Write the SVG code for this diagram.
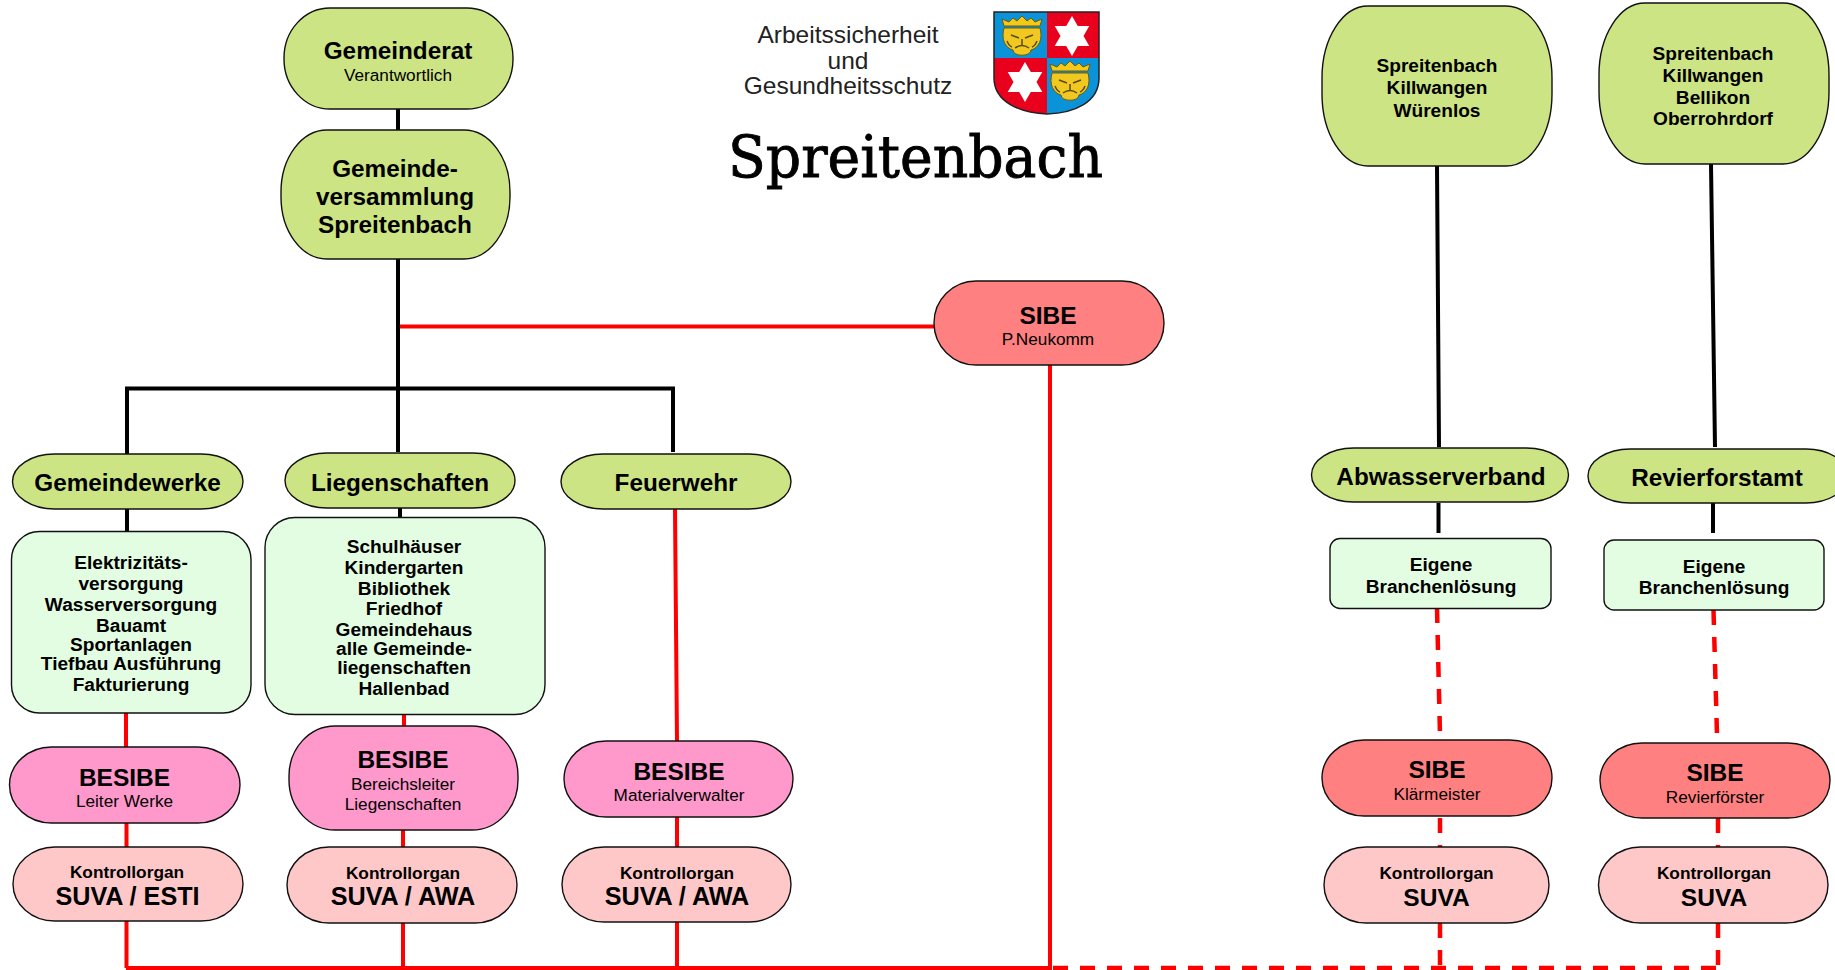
<svg xmlns="http://www.w3.org/2000/svg" xmlns:xlink="http://www.w3.org/1999/xlink" width="1835" height="970" viewBox="0 0 1835 970">
<style>
text{font-family:"Liberation Sans",Arial,sans-serif;text-anchor:middle;fill:#000}
.t25{font-size:24.500px;font-weight:bold}
.s25{font-size:25.200px;font-weight:bold}
.t23{font-size:24.300px;font-weight:bold}
.t19{font-size:19.100px;font-weight:bold}
.t17b{font-size:17.300px;font-weight:bold}
.t17{font-size:17.200px}
.logo{font-size:24.500px;fill:#222}
.n{stroke:#111;stroke-width:1.4}
.g{fill:#cce483}.p{fill:#e3fde3}.k{fill:#ff99cc}.l{fill:#ffc8c8}.r{fill:#ff8080}
.blk{stroke:#000;stroke-width:4;fill:none}
.red{stroke:#f00;stroke-width:4;fill:none}
.dash{stroke:#f00;stroke-width:4.500;fill:none;stroke-dasharray:15 12}
</style>
<defs>
<g id="lion">
<path d="M2 9 L0 2 L7 5 L11 1 L15 4 L20 -1 L25 4 L29 1 L33 5 L40 2 L38 9 Z" fill="#f5c916" stroke="#6b5a10" stroke-width="1"/>
<path d="M2 11 H38 C41 22 37 31 29 33 C29 40 11 40 11 33 C3 31 -1 22 2 11 Z" fill="#f0c820" stroke="#6b5a10" stroke-width="1"/>
<path d="M9 18 L17 21 M31 18 L23 21 M20 22 V28 M13 31 Q20 26 27 31 M5 24 Q7 29 10 30 M35 24 Q33 29 30 30" stroke="#5a4a10" stroke-width="1.500" fill="none"/>
</g>
<polygon id="star" points="0,-20 5.800,-10 17.300,-10 11.500,0 17.300,10 5.800,10 0,20 -5.800,10 -17.300,10 -11.500,0 -17.300,-10 -5.800,-10" fill="#fff"/>
</defs>

<g id="connectors">
<path class="blk" d="M398 109V130M398 259V452M127 454V388.500H673V452M127 509V537M400 508V521M1437 166L1439 447M1711 164L1715 447M1438.500 503V533M1713 503V533"/>
<path class="red" d="M400 326.500H934M1050 365V968M126 968H1052M126 713V747M126.500 823V847M126.500 921V968M404 714V726M403 830V847M403 923V968M675 509L677 741M677 817V847M677 922V968"/>
<path class="dash" d="M1437 608L1440 735M1713.500 610L1717 735M1440 818V847M1718 818V847M1440 923V968M1718 923V968M1053 968H1718"/>
</g>

<g id="gemeinderat"><rect class="n g" x="284" y="8" width="229" height="101" rx="46" ry="50"/><text class="t23" x="398" y="59">Gemeinderat</text><text class="t17" x="398" y="81">Verantwortlich</text></g>
<g id="gemeindeversammlung"><rect class="n g" x="281" y="130" width="229" height="129" rx="46" ry="62"/><text class="t23" x="395" y="177">Gemeinde-</text><text class="t23" x="395" y="205">versammlung</text><text class="t23" x="395" y="233">Spreitenbach</text></g>
<g id="sibe-neukomm"><rect class="n r" x="934" y="281" width="230" height="84" rx="42" ry="42"/><text class="t25" x="1048" y="324">SIBE</text><text class="t17" x="1048" y="345">P.Neukomm</text></g>

<g id="gemeindewerke"><rect class="n g" x="12.500" y="454" width="230.500" height="55" rx="42" ry="27.500"/><text class="t23" x="127.500" y="491">Gemeindewerke</text></g>
<g id="liegenschaften"><rect class="n g" x="285" y="453" width="230" height="55" rx="42" ry="27.500"/><text class="t23" x="400" y="491">Liegenschaften</text></g>
<g id="feuerwehr"><rect class="n g" x="561" y="454" width="230" height="55" rx="42" ry="27.500"/><text class="t23" x="676" y="491">Feuerwehr</text></g>

<g id="werke-aufgaben"><rect class="n p" x="11.500" y="531.500" width="239.500" height="181.500" rx="28" ry="28"/>
<text class="t19" x="131" y="569">Elektrizitäts-</text><text class="t19" x="131" y="590">versorgung</text><text class="t19" x="131" y="611">Wasserversorgung</text><text class="t19" x="131" y="632">Bauamt</text><text class="t19" x="131" y="651">Sportanlagen</text><text class="t19" x="131" y="670">Tiefbau Ausführung</text><text class="t19" x="131" y="691">Fakturierung</text></g>
<g id="liegenschaften-aufgaben"><rect class="n p" x="265" y="517.500" width="280" height="197" rx="30" ry="30"/>
<text class="t19" x="404" y="553">Schulhäuser</text><text class="t19" x="404" y="574">Kindergarten</text><text class="t19" x="404" y="595">Bibliothek</text><text class="t19" x="404" y="615">Friedhof</text><text class="t19" x="404" y="636">Gemeindehaus</text><text class="t19" x="404" y="655">alle Gemeinde-</text><text class="t19" x="404" y="674">liegenschaften</text><text class="t19" x="404" y="695">Hallenbad</text></g>

<g id="besibe-werke"><rect class="n k" x="9.500" y="747" width="230.500" height="76" rx="42" ry="38"/><text class="t25" x="124.500" y="786">BESIBE</text><text class="t17" x="124.500" y="807">Leiter Werke</text></g>
<g id="besibe-liegenschaften"><rect class="n k" x="289" y="726" width="229" height="104" rx="46" ry="50"/><text class="t25" x="403" y="768">BESIBE</text><text class="t17" x="403" y="790">Bereichsleiter</text><text class="t17" x="403" y="810">Liegenschaften</text></g>
<g id="besibe-feuerwehr"><rect class="n k" x="564" y="741" width="229" height="76" rx="42" ry="38"/><text class="t25" x="679" y="780">BESIBE</text><text class="t17" x="679" y="801">Materialverwalter</text></g>

<g id="kontroll-werke"><rect class="n l" x="13" y="847" width="230" height="74" rx="42" ry="37"/><text class="t17b" x="127" y="878">Kontrollorgan</text><text class="s25" x="127.500" y="905">SUVA / ESTI</text></g>
<g id="kontroll-liegenschaften"><rect class="n l" x="287" y="847" width="230" height="76" rx="42" ry="38"/><text class="t17b" x="403" y="879">Kontrollorgan</text><text class="s25" x="403" y="905">SUVA / AWA</text></g>
<g id="kontroll-feuerwehr"><rect class="n l" x="562" y="847" width="229" height="75" rx="42" ry="37.500"/><text class="t17b" x="677" y="879">Kontrollorgan</text><text class="s25" x="677" y="905">SUVA / AWA</text></g>

<g id="logo-text"><text class="logo" x="848" y="43">Arbeitssicherheit</text><text class="logo" x="848" y="69">und</text><text class="logo" x="848" y="94">Gesundheitsschutz</text></g>
<g id="wappen">
<path d="M994 12H1047V58H994Z" fill="#0a93d8"/><path d="M1047 12H1099V58H1047Z" fill="#e8001c"/>
<path d="M994 58H1047V114C1020 113 994 102 994 78Z" fill="#e8001c"/><path d="M1047 58H1099V78C1099 102 1075 113 1047 114Z" fill="#0a93d8"/>
<path d="M994 12H1099V78C1099 102 1075 113 1047 114C1020 113 994 102 994 78Z" fill="none" stroke="#222" stroke-width="1.500"/>
<use xlink:href="#lion" href="#lion" x="1002" y="17"/><use xlink:href="#lion" href="#lion" x="1050" y="62"/>
<use xlink:href="#star" href="#star" x="1072" y="36"/><use xlink:href="#star" href="#star" x="1025" y="82"/>
</g>
<g id="logo-name"><text x="915.500" y="177" font-size="57" style="font-family:'DejaVu Serif',serif" textLength="375" lengthAdjust="spacingAndGlyphs" stroke="#000" stroke-width="0.900">Spreitenbach</text></g>

<g id="gemeinden-abwasser"><rect class="n g" x="1322" y="6" width="230" height="160" rx="46" ry="72"/><text class="t19" x="1437" y="72">Spreitenbach</text><text class="t19" x="1437" y="94">Killwangen</text><text class="t19" x="1437" y="117">Würenlos</text></g>
<g id="gemeinden-forst"><rect class="n g" x="1599" y="3" width="230" height="161" rx="46" ry="72"/><text class="t19" x="1713" y="60">Spreitenbach</text><text class="t19" x="1713" y="82">Killwangen</text><text class="t19" x="1713" y="104">Bellikon</text><text class="t19" x="1713" y="125">Oberrohrdorf</text></g>
<g id="abwasserverband"><rect class="n g" x="1311.500" y="448" width="257" height="54" rx="42" ry="27"/><text class="t23" x="1441" y="485">Abwasserverband</text></g>
<g id="revierforstamt"><rect class="n g" x="1588" y="449" width="260" height="54" rx="42" ry="27"/><text class="t23" x="1717" y="486">Revierforstamt</text></g>
<g id="eigene-abwasser"><rect class="n p" x="1330" y="538.500" width="221" height="70" rx="10" ry="10"/><text class="t19" x="1441" y="571">Eigene</text><text class="t19" x="1441" y="593">Branchenlösung</text></g>
<g id="eigene-forst"><rect class="n p" x="1604" y="540" width="220" height="70" rx="10" ry="10"/><text class="t19" x="1714" y="573">Eigene</text><text class="t19" x="1714" y="594">Branchenlösung</text></g>
<g id="sibe-klaermeister"><rect class="n r" x="1322" y="740" width="230" height="76" rx="42" ry="38"/><text class="t25" x="1437" y="778">SIBE</text><text class="t17" x="1437" y="800">Klärmeister</text></g>
<g id="sibe-revierfoerster"><rect class="n r" x="1600" y="743" width="230" height="75" rx="42" ry="37.500"/><text class="t25" x="1715" y="781">SIBE</text><text class="t17" x="1715" y="803">Revierförster</text></g>
<g id="kontroll-abwasser"><rect class="n l" x="1324" y="847" width="225" height="76" rx="42" ry="38"/><text class="t17b" x="1436.500" y="879">Kontrollorgan</text><text class="t25" x="1436.500" y="906">SUVA</text></g>
<g id="kontroll-forst"><rect class="n l" x="1598.500" y="847" width="229.500" height="76" rx="42" ry="38"/><text class="t17b" x="1714" y="879">Kontrollorgan</text><text class="t25" x="1714" y="906">SUVA</text></g>
</svg>
